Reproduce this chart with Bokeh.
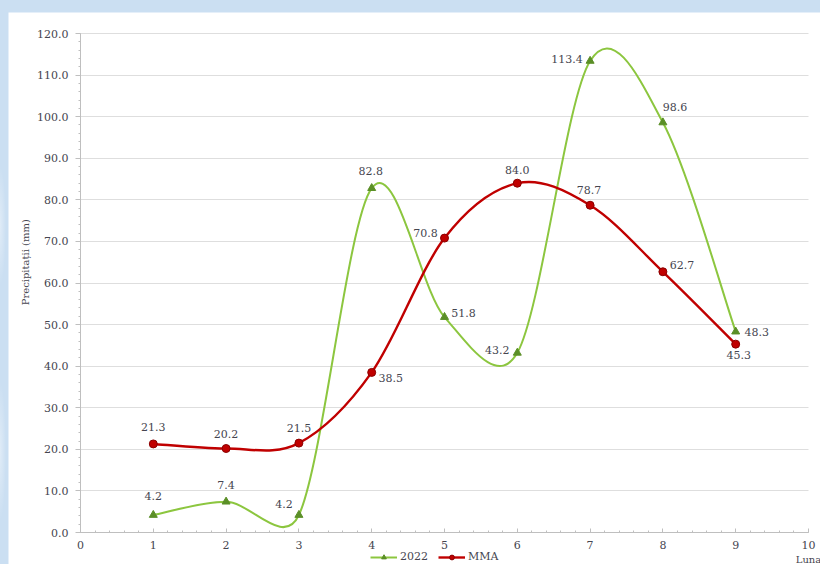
import numpy as np
from bokeh.plotting import figure
from bokeh.models import (ColumnDataSource, Legend, LegendItem, Label,
                          NumeralTickFormatter, FixedTicker, Range1d)
from bokeh.layouts import column
from bokeh.embed import file_html
from bokeh.resources import INLINE
from bokeh.core.properties import value

# Monthly precipitation (mm): 2022 vs multi-annual mean (MMA)
months = [1, 2, 3, 4, 5, 6, 7, 8, 9]
precip_2022 = [4.2, 7.4, 4.2, 82.8, 51.8, 43.2, 113.4, 98.6, 48.3]
precip_mma = [21.3, 20.2, 21.5, 38.5, 70.8, 84.0, 78.7, 62.7, 45.3]

x_ticks = list(range(0, 11))
y_ticks = list(range(0, 121, 10))

# label placement around each point (screen px)
dx_2022 = [0, 0, -15, -1, 19, -20, -23, 12, 21]
dy_2022 = [-19, -17, -11, -17, -4, -3, -2, -15, 0]
dx_mma = [0, 0, 0, 19, -19, 0, -1, 19, 3]
dy_mma = [-17, -15, -15, 6, -5, -13, -15, -7, 11]

GREEN = "#8cc63f"
GREEN_DARK = "#5b8f27"
RED = "#c00000"
RED_DARK = "#8b0000"
TEXT = "#45454f"
FONT = "DejaVu Serif"

# ---- geometry: white card inside the page, axes origin inside the card ----
FIG_W, FIG_H = 812, 552
ORIGIN_X, ORIGIN_Y = 72, 520      # pixel position of (0, 0) within the card
X_END_PX, Y_END_PX = 800, 21      # pixel position of x=10 / y=120
x_lo, x_hi = x_ticks[0], x_ticks[-1]
y_lo, y_hi = y_ticks[0], y_ticks[-1]
sx = (X_END_PX - ORIGIN_X) / (x_hi - x_lo)
sy = (ORIGIN_Y - Y_END_PX) / (y_hi - y_lo)
x_range = Range1d(x_lo - ORIGIN_X / sx, x_lo + (FIG_W - ORIGIN_X) / sx)
y_range = Range1d(y_lo - (FIG_H - ORIGIN_Y) / sy, y_lo + ORIGIN_Y / sy)


def smooth_segments(xs, ys, k=1.0 / 6.0):
    """Cubic Bezier segments through the points.

    Tangents follow Catmull-Rom; each handle is kept no longer than half of
    its own segment (measured on screen) so short hops do not overshoot.
    """
    x = np.asarray(xs, float)
    y = np.asarray(ys, float)
    xp = np.concatenate([[x[0]], x, [x[-1]]])
    yp = np.concatenate([[y[0]], y, [y[-1]]])
    tx = (xp[2:] - xp[:-2]) * k
    ty = (yp[2:] - yp[:-2]) * k
    hlen = np.hypot(tx * sx, ty * sy)
    seg = np.hypot(np.diff(x) * sx, np.diff(y) * sy)
    out_scale = np.minimum(1.0, 0.5 * seg / np.maximum(hlen[:-1], 1e-9))
    in_scale = np.minimum(1.0, 0.5 * seg / np.maximum(hlen[1:], 1e-9))
    return dict(
        x0=x[:-1], y0=y[:-1], x1=x[1:], y1=y[1:],
        cx0=x[:-1] + tx[:-1] * out_scale, cy0=y[:-1] + ty[:-1] * out_scale,
        cx1=x[1:] - tx[1:] * in_scale, cy1=y[1:] - ty[1:] * in_scale,
    )


p = figure(width=FIG_W, height=FIG_H, output_backend="svg",
           toolbar_location=None, x_range=x_range, y_range=y_range,
           min_border=0, min_border_left=0, min_border_right=0,
           min_border_top=0, min_border_bottom=0)
p.margin = (12, 0, 0, 8)
p.background_fill_color = "white"
p.border_fill_color = "white"
p.outline_line_color = None

# axes drawn through the origin, spanning only the data extent
p.xaxis.fixed_location = 0
p.yaxis.fixed_location = 0
p.xaxis.bounds = (x_lo, x_hi)
p.yaxis.bounds = (y_lo, y_hi)
p.xaxis.ticker = FixedTicker(ticks=x_ticks,
                             minor_ticks=list(np.arange(x_lo, x_hi + 0.01, 0.2)))
p.yaxis.ticker = FixedTicker(ticks=y_ticks,
                             minor_ticks=list(np.arange(y_lo, y_hi + 0.01, 2)))
p.yaxis.formatter = NumeralTickFormatter(format="0.0")
for ax in (p.xaxis, p.yaxis):
    ax.axis_line_color = "#bfbfbf"
    ax.major_tick_line_color = "#bfbfbf"
    ax.minor_tick_line_color = "#bfbfbf"
    ax.major_label_text_font = FONT
    ax.major_label_text_font_size = "11px"
    ax.major_label_text_color = TEXT
p.yaxis.major_tick_out = 5
p.yaxis.major_tick_in = 0
p.yaxis.minor_tick_out = 2
p.yaxis.minor_tick_in = 0
p.yaxis.major_label_standoff = 7
p.xaxis.major_tick_out = 0
p.xaxis.major_tick_in = 4
p.xaxis.minor_tick_out = 0
p.xaxis.minor_tick_in = 2
p.xaxis.major_label_standoff = 8

# horizontal grid between x=0 and x=10 only
p.xgrid.grid_line_color = None
try:
    p.ygrid.cross_bounds = (x_lo, x_hi)
    p.ygrid.grid_line_color = "#dedede"
    p.ygrid.grid_line_width = 1
except AttributeError:
    p.ygrid.grid_line_color = None
    p.segment(x0=[x_lo] * len(y_ticks), x1=[x_hi] * len(y_ticks),
              y0=y_ticks, y1=y_ticks, line_color="#dedede", line_width=1,
              level="underlay")

# smoothed series
src_2022 = ColumnDataSource(smooth_segments(months, precip_2022))
src_mma = ColumnDataSource(smooth_segments(months, precip_mma))
bez_2022 = p.bezier(x0="x0", y0="y0", x1="x1", y1="y1", cx0="cx0", cy0="cy0",
                    cx1="cx1", cy1="cy1", source=src_2022,
                    line_color=GREEN, line_width=2)
bez_mma = p.bezier(x0="x0", y0="y0", x1="x1", y1="y1", cx0="cx0", cy0="cy0",
                   cx1="cx1", cy1="cy1", source=src_mma,
                   line_color=RED, line_width=2.4)

pts_2022 = ColumnDataSource(dict(
    x=months, y=precip_2022, lbl=[f"{v:.1f}" for v in precip_2022],
    dx=dx_2022, dy=dy_2022))
pts_mma = ColumnDataSource(dict(
    x=months, y=precip_mma, lbl=[f"{v:.1f}" for v in precip_mma],
    dx=dx_mma, dy=dy_mma))

sc_2022 = p.scatter("x", "y", source=pts_2022, marker="triangle", size=8,
                    fill_color=GREEN_DARK, line_color=GREEN_DARK)
sc_mma = p.scatter("x", "y", source=pts_mma, marker="circle", size=8,
                   fill_color=RED, line_color=RED_DARK)

for src in (pts_2022, pts_mma):
    p.text("x", "y", text="lbl", source=src, x_offset="dx", y_offset="dy",
           text_align="center", text_baseline="middle",
           text_font=value(FONT), text_font_size="11px", text_color=TEXT)

# axis titles
p.add_layout(Label(x=x_hi, y=-6.4, text="Luna",
                   text_font=FONT, text_font_size="10px", text_color=TEXT,
                   text_align="center", text_baseline="middle"))
p.add_layout(Label(x=-0.76, y=65, text="Precipitații (mm)", angle=np.pi / 2,
                   text_font=FONT, text_font_size="10px", text_color=TEXT,
                   text_align="center", text_baseline="middle"))

legend = Legend(items=[
    LegendItem(label="2022", renderers=[bez_2022, sc_2022]),
    LegendItem(label="MMA", renderers=[bez_mma, sc_mma]),
], orientation="horizontal", location=(362, 1),
    background_fill_alpha=0, border_line_color=None,
    label_text_font=FONT, label_text_font_size="11px",
    label_text_color=TEXT, glyph_width=27, glyph_height=12,
    padding=0, spacing=10, label_standoff=3, margin=0)
p.add_layout(legend, "center")

page = column(p, styles={
    "background-color": "#cbdff2",
    "background-image": (
        "radial-gradient(ellipse 60px 8px at 12% 30%, rgba(255,255,255,0.55), transparent),"
        "radial-gradient(ellipse 80px 7px at 38% 60%, rgba(255,255,255,0.45), transparent),"
        "radial-gradient(ellipse 70px 8px at 66% 25%, rgba(255,255,255,0.5), transparent),"
        "radial-gradient(ellipse 90px 6px at 88% 55%, rgba(255,255,255,0.45), transparent),"
        "radial-gradient(ellipse 6px 60px at 0% 40%, rgba(255,255,255,0.4), transparent),"
        "radial-gradient(ellipse 6px 70px at 0% 80%, rgba(255,255,255,0.4), transparent)"
    ),
})

open("out.html", "w").write(file_html(page, INLINE))
